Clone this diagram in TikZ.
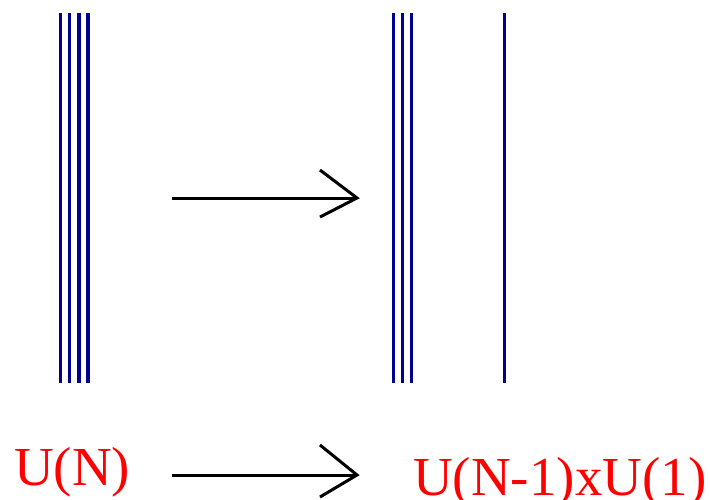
\documentclass[tikz,border=0pt]{standalone}
\usepackage{fontspec}
\setmainfont{Liberation Serif}
\begin{document}
\begin{tikzpicture}[x=1pt,y=-1pt,
  strand/.style={draw={rgb,255:red,0;green,0;blue,145},line width=3.4pt},
  arrowline/.style={draw=black,line width=3pt,line cap=butt,line join=miter},
  label/.style={text=red,font=\fontsize{55}{60}\selectfont,inner sep=0pt,anchor=base west}]
\useasboundingbox (0,0) rectangle (710,499);
% left bundle U(N)
\foreach \x in {60.5,69.5,79,88} \draw[strand] (\x,13) -- (\x,383);
% right bundle
\foreach \x in {393.5,402.5,411.5,504.5} \draw[strand] (\x,13) -- (\x,383);
% top arrow
\coordinate (a1s) at (172,198);
\coordinate (a1t) at (357,198);
\coordinate (a1u) at (320,170);
\coordinate (a1d) at (320,217);
\draw[arrowline] (a1s) -- (a1t);
\draw[arrowline] (a1u) -- (a1t) -- (a1d);
% labels
\node[label] (un) at (14,485) {U(N)};
\node[label] (unm) at (413,495) {U(N-1)xU(1)};
% bottom arrow
\coordinate (a2s) at (172,475);
\coordinate (a2t) at (357,475);
\coordinate (a2u) at (320,445);
\coordinate (a2d) at (320,497);
\draw[arrowline] (a2s) -- (a2t);
\draw[arrowline] (a2u) -- (a2t) -- (a2d);
\end{tikzpicture}
\end{document}
